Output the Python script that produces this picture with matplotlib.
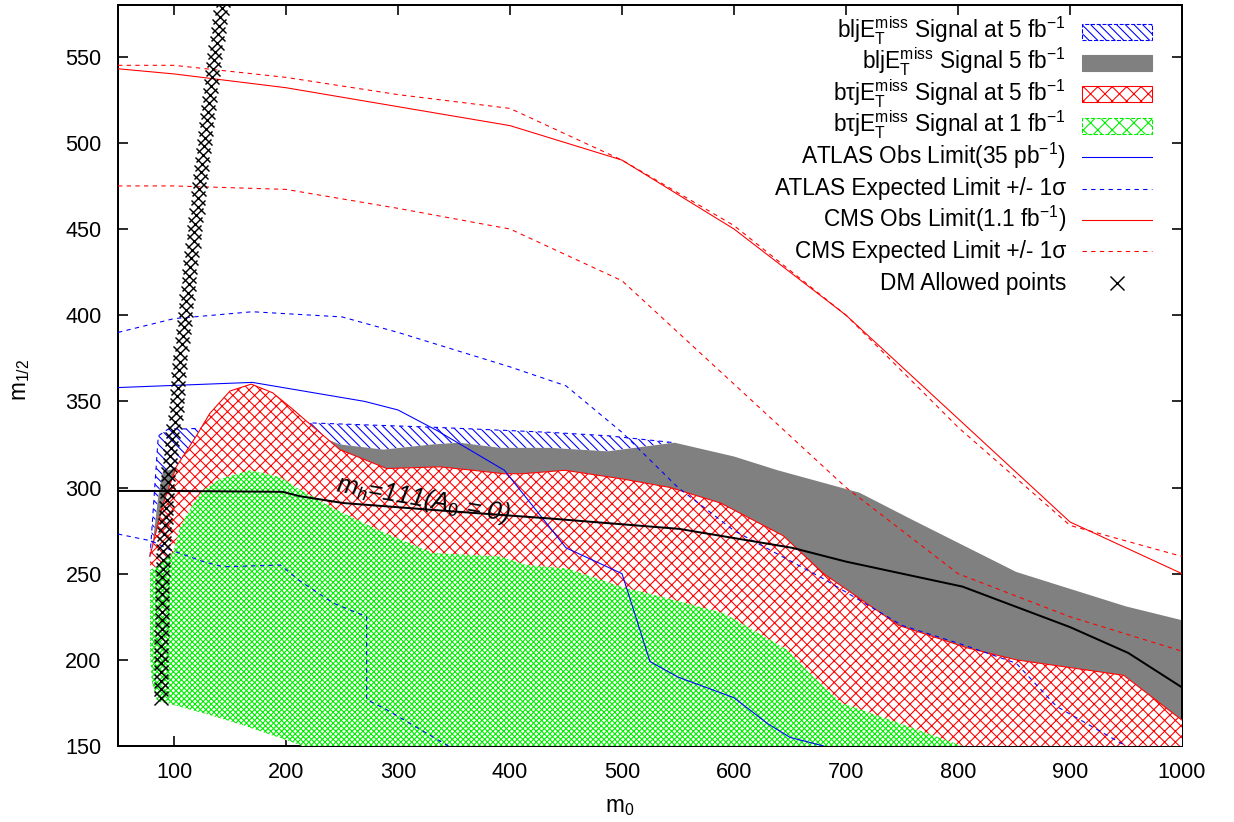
import numpy as np
import matplotlib
matplotlib.use("Agg")
import matplotlib.pyplot as plt
from matplotlib.patches import Rectangle
from matplotlib.lines import Line2D

plt.rcParams['font.family'] = ['Liberation Sans', 'DejaVu Sans']
plt.rcParams['mathtext.fontset'] = 'custom'
plt.rcParams['mathtext.rm'] = 'Liberation Sans'
plt.rcParams['mathtext.it'] = 'Liberation Sans:italic'
plt.rcParams['mathtext.bf'] = 'Liberation Sans:bold'
plt.rcParams['hatch.linewidth'] = 0.6

# ---- limit curves (m0, m1/2) ----
cms_obs_m0 = [50, 100, 200, 300, 400, 500, 600, 700, 800, 900, 1000]
cms_obs_m12 = [543, 540, 532, 521, 510, 490, 450, 400, 340, 280, 250]
cms_exp_hi_m0 = [50, 100, 200, 300, 400, 500, 600, 700, 800, 900, 1000]
cms_exp_hi_m12 = [545, 545, 538, 528, 520, 490, 452, 400, 335, 278, 260]
cms_exp_lo_m0 = [50, 100, 200, 300, 400, 500, 600, 700, 800, 900, 1000]
cms_exp_lo_m12 = [475, 475, 473, 462, 450, 420, 360, 300, 250, 225, 205]

atlas_obs_m0 = [50, 170, 270, 300, 335, 395, 450, 500, 525, 550, 600, 630, 650, 680]
atlas_obs_m12 = [358, 361, 350, 345, 333, 310, 265, 250, 199, 190, 178, 163, 155, 150]
atlas_exp_hi_m0 = [50, 100, 170, 250, 300, 400, 450, 500, 550, 600, 680, 750, 808, 852, 888, 950]
atlas_exp_hi_m12 = [390, 398, 402, 399, 390, 370, 359, 332, 300, 275, 247, 220, 208, 198, 173, 150]
atlas_exp_lo_m0 = [50, 80, 96, 126, 144, 195, 212, 242, 272, 272, 290, 345]
atlas_exp_lo_m12 = [273, 269, 264, 257, 254, 255, 246, 233, 225, 177, 171, 150]

mh_m0 = [50, 100, 197, 212, 251, 331, 436, 551, 652, 700, 804, 900, 952, 1000]
mh_m12 = [298, 298, 297.5, 295, 291, 287, 282, 276, 265, 257, 242.5, 219, 204, 184]

# ---- signal regions ----
blj_at5_top_m0 = [78.6, 83, 86, 95, 111, 221, 331, 436, 488, 547]
blj_at5_top_m12 = [260, 302, 330, 334, 334, 337.5, 335, 332, 330, 326]

blj5_top_m0 = [80, 86, 90, 100, 170, 233, 248, 287, 331, 355, 391, 436, 487, 547, 600, 639, 712, 760, 852, 950, 1000]
blj5_top_m12 = [262, 295, 309, 311, 320, 329, 325, 322, 325, 326, 323, 323, 321, 326, 318, 310, 297, 281, 251, 231, 223]

btj5_top_m0 = [78.5, 90, 102, 120, 132, 150, 169, 188, 205, 221, 248, 290, 337, 367, 394, 411, 449, 500, 543, 588, 644, 680, 747, 808, 852, 948, 1000]
btj5_top_m12 = [260, 290, 312, 330, 343, 356, 360, 355, 346, 337, 322, 311, 312, 310, 308, 308, 310, 305, 300, 291, 272, 250, 220, 207, 200, 191, 165]
btj5_bot_m0 = [1000, 215, 200, 162, 132, 93, 85, 79]
btj5_bot_m12 = [150, 150, 153.5, 162, 168, 175, 176, 200]

btj1_top_m0 = [78.6, 88, 99, 105, 111, 125, 141, 168, 195, 212, 242, 287, 331, 361, 391, 415, 451, 499, 545, 591, 647, 671, 696, 740, 804]
btj1_top_m12 = [252, 256, 262, 276, 284, 298, 305, 310, 306, 299, 288, 274, 262, 261, 260, 255, 253, 242.5, 235, 227, 206, 190, 175, 165, 150]
btj1_bot_m0 = [215, 200, 162, 132, 93, 85, 80, 78.6]
btj1_bot_m12 = [150, 153.5, 162, 168, 175, 176, 188, 205]

# ---- DM allowed points ----
dm_m0 = [88, 88, 88, 88, 88.5, 88.5, 88.5, 88.5, 89, 89, 89, 89, 89.5, 89.5, 89.5, 90, 90, 90,
         91, 91.5, 92, 92.5, 93, 93.5, 94, 94.5, 95,
         96, 96.5, 97.5, 98.5, 99.5, 100.5, 101.5, 102.5,
         103, 103.5, 104, 104.5, 105, 105.5,
         107.5, 108, 108.5, 109.5, 110.5, 111,
         112.5, 113, 113.5, 114.5, 115.5, 116,
         117.5, 118, 119, 120, 121, 121.5,
         122.5, 123, 124, 125, 126, 126.5,
         127.5, 128.5, 129.5, 130.5, 131.5, 132.5, 133,
         134, 135, 136, 137, 138, 139,
         140.5, 141.5, 142.5, 143.5, 144.5]
dm_m12 = [178, 183, 188, 193, 198, 203, 208, 213, 218, 223, 228, 233, 238, 243, 248, 253, 258, 263,
          268, 273, 278, 283, 288, 293, 298, 303, 308,
          313, 318, 323, 328, 333, 338, 343, 348,
          353, 358, 363, 368, 373, 378,
          383, 388, 393, 398, 403, 408,
          413, 418, 423, 428, 433, 438,
          443, 448, 453, 458, 463, 468,
          473, 478, 483, 488, 493, 498,
          503, 508, 513, 518, 523, 528, 533,
          538, 543, 548, 553, 558, 563,
          568, 573, 578, 583, 588]

labels = [r"bljE$_\mathrm{T}^\mathrm{miss}$ Signal at 5 fb$^{-1}$",
          r"bljE$_\mathrm{T}^\mathrm{miss}$ Signal 5 fb$^{-1}$",
          r"bτjE$_\mathrm{T}^\mathrm{miss}$ Signal at 5 fb$^{-1}$",
          r"bτjE$_\mathrm{T}^\mathrm{miss}$ Signal at 1 fb$^{-1}$",
          r"ATLAS Obs Limit(35 pb$^{-1}$)",
          "ATLAS Expected Limit +/- 1σ",
          r"CMS Obs Limit(1.1 fb$^{-1}$)",
          "CMS Expected Limit +/- 1σ",
          "DM Allowed points"]

W, H = 1234, 822
fig = plt.figure(figsize=(W / 130, H / 130), dpi=130)
ax = fig.add_axes([118 / W, 1 - 746 / H, 1064 / W, 741 / H])

dash = (0, (4, 4))
thin = 0.6
green = '#00ee00'
blue_hatch = '\\' * 5

# blue hatched region (bottom boundary hidden under the grey one)
bx = blj_at5_top_m0 + blj5_top_m0[:14][::-1]
by = blj_at5_top_m12 + blj5_top_m12[:14][::-1]
ax.fill(bx, by, facecolor='white', edgecolor='blue', hatch=blue_hatch, linewidth=0, zorder=1)

# grey region, lower edge follows the red region
gx = blj5_top_m0 + btj5_top_m0[::-1]
gy = blj5_top_m12 + btj5_top_m12[::-1]
ax.fill(gx, gy, facecolor='#808080', edgecolor='none', linewidth=0, zorder=2)
ax.plot(blj_at5_top_m0, blj_at5_top_m12, color='blue', lw=thin, ls=dash, zorder=2.5)

# red cross-hatched region
rx = btj5_top_m0 + btj5_bot_m0
ry = btj5_top_m12 + btj5_bot_m12
ax.fill(rx, ry, facecolor='white', edgecolor='red', hatch='xxxx', linewidth=0, zorder=3)
ax.plot(btj5_top_m0, btj5_top_m12, color='red', lw=thin, zorder=3.5)

# green cross-hatched region
ex = btj1_top_m0 + btj1_bot_m0
ey = btj1_top_m12 + btj1_bot_m12
ax.fill(ex, ey, facecolor='white', edgecolor=green, hatch='x' * 8, linewidth=0, zorder=4)

# limit lines
ax.plot(atlas_obs_m0, atlas_obs_m12, color='blue', lw=thin, zorder=5)
ax.plot(atlas_exp_hi_m0, atlas_exp_hi_m12, color='blue', lw=thin, ls=dash, zorder=5)
ax.plot(atlas_exp_lo_m0, atlas_exp_lo_m12, color='blue', lw=thin, ls=dash, zorder=5)
ax.plot(cms_obs_m0, cms_obs_m12, color='red', lw=thin, zorder=5)
ax.plot(cms_exp_hi_m0, cms_exp_hi_m12, color='red', lw=thin, ls=dash, zorder=5)
ax.plot(cms_exp_lo_m0, cms_exp_lo_m12, color='red', lw=thin, ls=dash, zorder=5)

ax.plot(mh_m0, mh_m12, color='black', lw=1.1, zorder=6)
ax.text(244, 298, r"$m_h$=111($A_0$ = 0)", rotation=-10, rotation_mode='anchor',
        ha='left', va='baseline', fontsize=14, style='italic', zorder=7)

ax.plot(dm_m0, dm_m12, ls='none', marker='x', color='black', ms=7.5, mew=0.8, zorder=8)

ax.set_xlim(50, 1000)
ax.set_ylim(150, 580)
ax.set_xticks(np.arange(100, 1001, 100))
ax.set_yticks(np.arange(150, 551, 50))
ax.tick_params(direction='in', length=5.5, width=0.9, top=True, right=True, labelsize=12)
ax.tick_params(axis='x', pad=9)
ax.tick_params(axis='y', pad=9)
for s in ax.spines.values():
    s.set_linewidth(1.1)

fig.text(620 / W, 1 - 806 / H, r"m$_0$", ha='center', va='center', fontsize=12.5)
fig.text(20 / W, 1 - 380 / H, r"m$_{1/2}$", ha='center', va='center', rotation=90, fontsize=12.5)

# key, drawn by hand so rows are evenly spaced like the original
tf = fig.transFigure
text_right, h0, h1 = 1066, 1082, 1152
row0, step = 31.5, 31.4
for i, lab in enumerate(labels):
    yc = row0 + i * step
    fig.text(text_right / W, 1 - (yc + 7) / H, lab, ha='right', va='baseline', fontsize=12.5)
yrow = [1 - (row0 + i * step) / H for i in range(len(labels))]
box_h = 16
boxes = [dict(facecolor='white', edgecolor='blue', hatch=blue_hatch, ls='--'),
         dict(facecolor='#808080', edgecolor='#808080'),
         dict(facecolor='white', edgecolor='red', hatch='xxx'),
         dict(facecolor='white', edgecolor=green, hatch='xxx', ls='--')]
for i, kw in enumerate(boxes):
    fig.add_artist(Rectangle((h0 / W, yrow[i] - box_h / 2 / H), (h1 - h0) / W, box_h / H,
                             transform=tf, lw=thin, **kw))
line_styles = [('blue', '-'), ('blue', dash), ('red', '-'), ('red', dash)]
for j, (c, s) in enumerate(line_styles):
    y = yrow[4 + j]
    fig.add_artist(Line2D([h0 / W, h1 / W], [y, y], transform=tf, color=c, lw=thin, ls=s))
fig.add_artist(Line2D([(h0 + h1) / 2 / W], [yrow[8]], transform=tf, ls='none', marker='x',
                      color='black', ms=7.5, mew=0.8))

fig.savefig("out.png", dpi=130)
